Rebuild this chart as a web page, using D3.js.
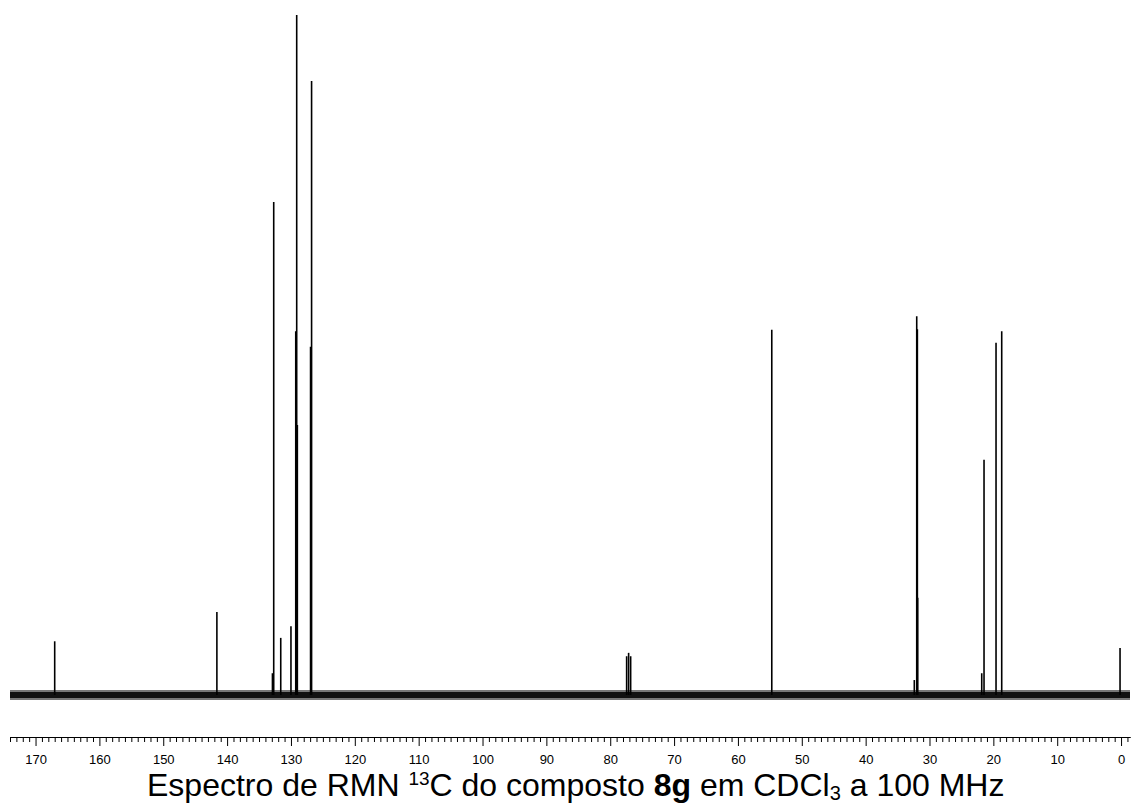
<!DOCTYPE html>
<html>
<head>
<meta charset="utf-8">
<script src="https://cdn.jsdelivr.net/npm/d3@7"></script>
<style>
  html, body { margin: 0; padding: 0; background: #fff; }
  svg { display: block; }
</style>
</head>
<body>
<svg id="chart" width="1137" height="805"></svg>
<script>
// Peak chemical shifts (ppm) and relative intensities (tallest = 100)
const peakShifts = [167.0, 141.6, 132.9, 132.7, 131.6, 130.0, 129.25, 129.1, 129.0, 126.93, 126.77,
                    77.43, 77.12, 76.8, 54.7, 32.38, 32.0, 31.9, 31.85, 21.82, 21.46, 19.58, 18.69, 0.16];
const peakIntensities = [7.9, 12.2, 3.2, 72.5, 8.4, 10.1, 53.5, 100, 39.7, 51.2, 90.3,
                         5.7, 6.2, 5.7, 53.7, 2.2, 55.7, 53.8, 14.3, 3.2, 34.6, 51.8, 53.5, 6.9];
const majorTicks = [170, 160, 150, 140, 130, 120, 110, 100, 90, 80, 70, 60, 50, 40, 30, 20, 10, 0];
const ppmDomain = [174, -1.4];
const titleParts = [
  {text: "Espectro de RMN ", kind: "normal"},
  {text: "13", kind: "sup"},
  {text: "C do composto ", kind: "normal"},
  {text: "8g", kind: "bold"},
  {text: " em CDCl", kind: "normal"},
  {text: "3", kind: "sub"},
  {text: " a 100 MHz", kind: "normal"}
];

const svg = d3.select("#chart");
const FONT = "Arial, 'Liberation Sans', Helvetica, sans-serif";

const x = d3.scaleLinear().domain(ppmDomain).range([10, 1130]);
const y = d3.scaleLinear().domain([0, 100]).range([695, 15]);

// baseline noise band
const base = svg.append("g");
base.append("line")
  .attr("x1", x(ppmDomain[0])).attr("x2", x(ppmDomain[1]))
  .attr("y1", y(0)).attr("y2", y(0))
  .attr("stroke", "#777").attr("stroke-width", 10);
base.append("line")
  .attr("x1", x(ppmDomain[0])).attr("x2", x(ppmDomain[1]))
  .attr("y1", y(0)).attr("y2", y(0))
  .attr("stroke", "#111").attr("stroke-width", 6);

// peaks
const peaks = peakShifts.map((p, i) => ({ppm: p, h: peakIntensities[i]}));
svg.append("g").selectAll("line").data(peaks).join("line")
  .attr("x1", d => x(d.ppm)).attr("x2", d => x(d.ppm))
  .attr("y1", y(0)).attr("y2", d => y(d.h))
  .attr("stroke", "#000").attr("stroke-width", 1.6);

// axis with minor ticks
const minorTicks = d3.range(174, -2, -1).filter(v => v % 10 !== 0);
const axisG = svg.append("g").attr("transform", "translate(0,737)");
axisG.call(d3.axisBottom(x).tickValues(minorTicks).tickSize(5).tickSizeOuter(0).tickFormat(""));
axisG.append("g").call(d3.axisBottom(x).tickValues(majorTicks).tickSize(9).tickSizeOuter(0).tickPadding(9).tickFormat(d3.format("d")));
axisG.selectAll("path.domain").attr("stroke", "#000").attr("stroke-width", 1);
axisG.selectAll("line").attr("stroke", "#000").attr("stroke-width", 1);
axisG.selectAll("text").attr("font-family", FONT).attr("font-size", 13).attr("fill", "#000");

// title
const title = svg.append("text")
  .attr("x", 147).attr("y", 796)
  .attr("font-family", FONT).attr("font-size", 32).attr("fill", "#000");
titleParts.forEach((part, i) => {
  const t = title.append("tspan").text(part.text);
  const prev = titleParts[i - 1];
  let dy = 0;
  if (prev && prev.kind === "sup") dy += 11;
  if (prev && prev.kind === "sub") dy -= 4;
  if (part.kind === "bold") t.attr("font-weight", "bold");
  if (part.kind === "sup") { t.attr("font-size", 19); dy -= 11; }
  if (part.kind === "sub") { t.attr("font-size", 20); dy += 4; }
  t.attr("dy", dy);
});
</script>
</body>
</html>
